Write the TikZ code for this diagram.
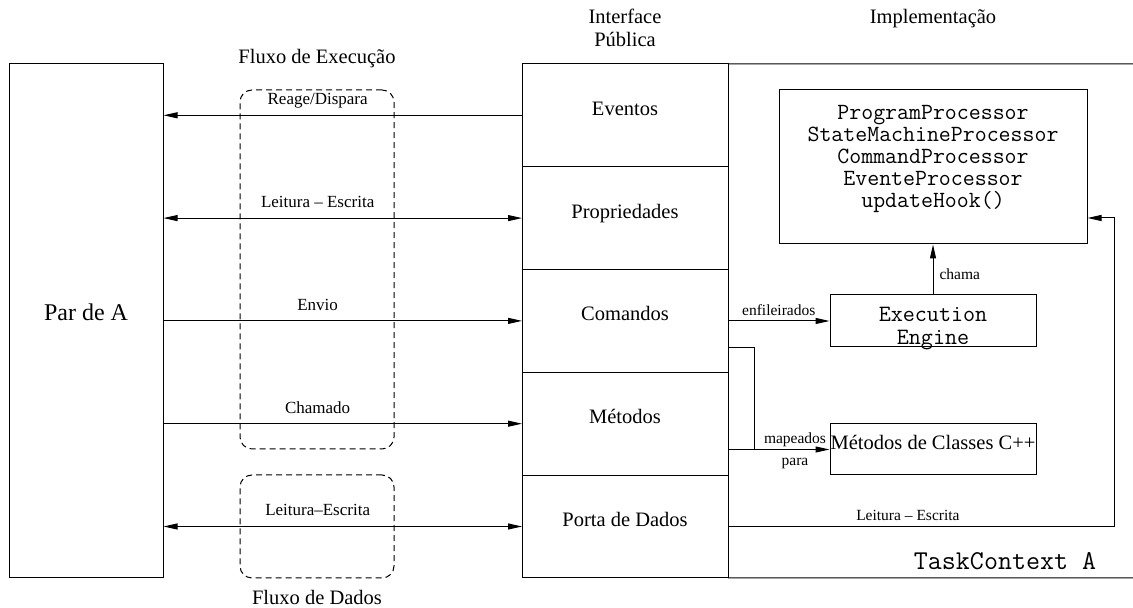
\documentclass[tikz,border=0pt]{standalone}
\usepackage{fontspec}
\setmainfont{Liberation Serif}
\usetikzlibrary{arrows.meta,positioning}
\tikzset{
	titlefont/.style={font=\fontsize{10.25}{11.5}\selectfont},
	iface/.style={draw, inner sep=0pt, outer sep=0pt, minimum width=103pt, minimum height=51.4pt, titlefont, text height=7pt, text depth=7pt},
	implbox/.style={draw, inner sep=0pt, minimum width=103pt},
	dashbox/.style={draw, dash pattern=on 3pt off 2pt, rounded corners=6pt, inner sep=0pt, minimum width=77pt},
	lbl/.style={font=\fontsize{8.5}{10}\selectfont, text depth=1.7pt},
	note/.style={font=\fontsize{7.75}{9}\selectfont, inner sep=0.5pt, text depth=2pt},
	mono/.style={font=\fontsize{11.6}{11}\ttfamily\selectfont, align=center, inner sep=0pt}
}
\begin{document}
\begin{tikzpicture}[x=0.5pt, y=0.5pt, line width=0.5pt, >={Triangle[length=7pt,width=3pt]}]
	\useasboundingbox (0,0) rectangle (1133,608);
	\node[draw, inner sep=0pt, minimum width=77pt, minimum height=257pt, font=\fontsize{12}{14}\selectfont, text height=8pt, text depth=8pt] (parA) at (86,287) {Par de A};
	\foreach \nm/\txt [count=\i] in {ev/Eventos, pr/Propriedades, cmd/Comandos, mt/Métodos, pd/Porta de Dados}
		\node[iface] (\nm) at (625,595.5-102.8*\i) {\txt};
	\node[above=5pt of ev, titlefont, align=center] (ifaceLbl) {Interface\\Pública};
	\node[titlefont, anchor=base] (implLbl) at (933,584) {Implementação};
	\draw (ev.north east) -- (1133,544);
	\draw (pd.south east) -- (1133,30);
	\node[dashbox, minimum height=179.5pt] (flowExec) at (317,338.5) {};
	\node[dashbox, minimum height=51.5pt] (flowData) at (317,81.5) {};
	\node[above=7pt of flowExec, titlefont] (flowExecLbl) {Fluxo de Execução};
	\node[below=2.5pt of flowData, titlefont] (flowDataLbl) {Fluxo de Dados};
	\foreach \nm/\tip/\txt in {ev/<-/{Reage/Dispara}, pr/<->/{Leitura – Escrita}, cmd/->/Envio, mt/->/Chamado, pd/<->/{Leitura–Escrita}}
		\draw[\tip] (\nm.west -| parA.east) -- (\nm.west) node[lbl, above, pos=0.43] (\nm Lbl) {\txt};
	\node[implbox, minimum width=154pt, minimum height=77pt] (proc) at (933,441) {};
	\node[mono, below=7.5pt of proc.north] (procTxt) {ProgramProcessor\\StateMachineProcessor\\CommandProcessor\\EventeProcessor\\updateHook()};
	\node[implbox, minimum height=26pt] (exec) at (933,287) {};
	\node[mono, below=6pt of exec.north, font=\fontsize{11.7}{11.5}\ttfamily\selectfont] (execTxt) {Execution\\Engine};
	\node[implbox, minimum height=25.5pt, titlefont, text height=7pt, text depth=7pt] (cpp) at (933,158.5) {Métodos de Classes C++};
	\node[font=\fontsize{13.6}{15}\ttfamily\selectfont] (taskLbl) at (1005,47) {TaskContext A};
	\draw[->] (exec.west -| cmd.east) -- (exec.west) node[note, above, midway] (enfLbl) {enfileirados};
	\draw[->] (exec.north) -- (proc.south) node[note, right=2.5pt, pos=0.37] (chamaLbl) {chama};
	\coordinate (mapJoin) at (754,158.5);
	\draw (exec.south -| cmd.east) -| (mapJoin);
	\draw[->] (cpp.west -| mt.east) -- (cpp.west) node[note, above, pos=0.66] (mapLbl) {mapeados} node[note, below, pos=0.66, yshift=-3.5pt] (paraLbl) {para};
	\coordinate (rwTop) at (1114,390);
	\draw[->] (pd.east) -- node[note, above, pos=0.466] (rwLbl) {Leitura – Escrita} (pd.east -| rwTop) -- (rwTop) -- (rwTop -| proc.east);
\end{tikzpicture}
\end{document}
